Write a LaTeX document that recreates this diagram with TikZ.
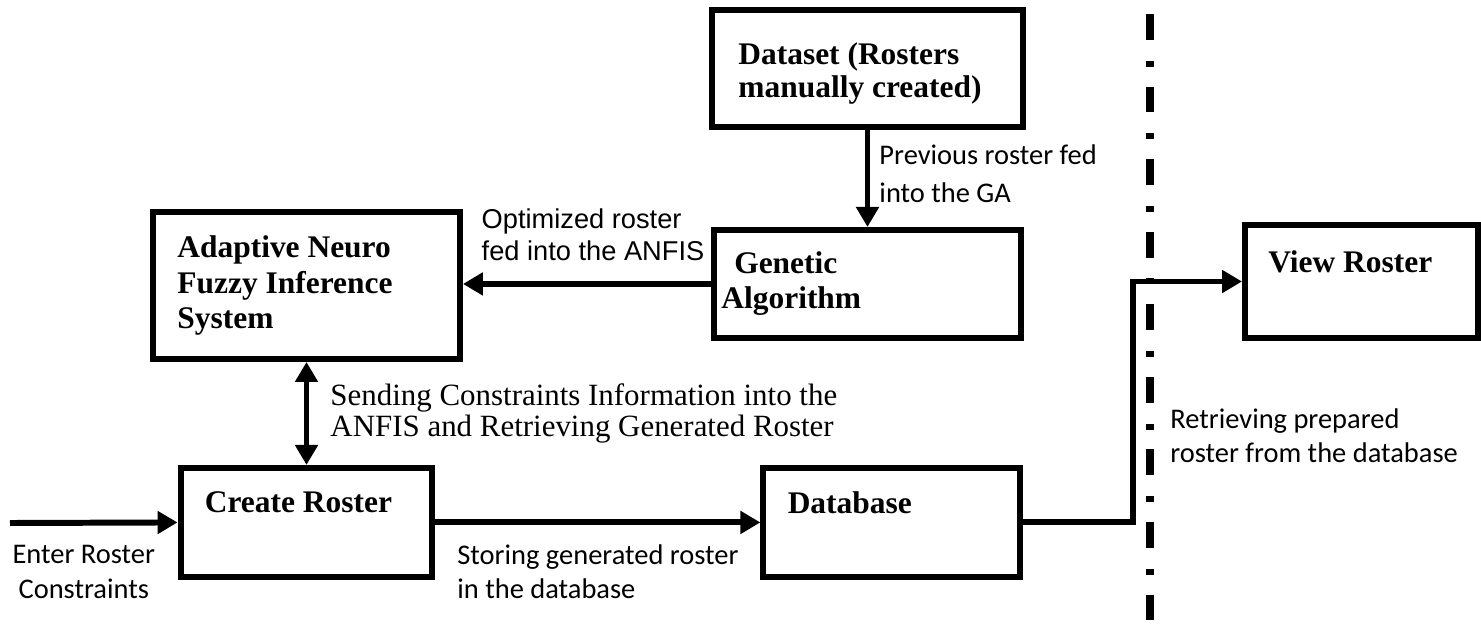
\documentclass[tikz,border=0pt]{standalone}
\usepackage{fontspec}
\setmainfont{Liberation Serif}
\newfontfamily\calibri{Carlito}
\newfontfamily\arial{Liberation Sans}
\usetikzlibrary{arrows.meta, positioning}

\begin{document}
\begin{tikzpicture}[
        x=0.02cm, y=-0.02cm,
        box/.style={draw, rectangle, line width=3.4pt},
        boxlabel/.style={anchor=north west, inner sep=0pt, align=left, xshift=0.54cm, yshift=-0.52cm,
            font=\bfseries\fontsize{17.9}{20.4}\selectfont},
        >={Triangle[length=0.4cm, width=0.44cm]},
        flow/.style={->, line width=3.4pt},
        note/.style={inner sep=0pt, align=left, font=\calibri\fontsize{16.2}{19.8}\selectfont},
        sepline/.style={line width=4pt, dash pattern=on 14.7pt off 11.9pt on 3.4pt off 11.3pt}
    ]
    \useasboundingbox (0,0) rectangle (1481,623);

    % boxes
    \node[box, minimum width=6.22cm, minimum height=2.34cm,
        label={[boxlabel, xshift=0.04cm, yshift=-0.18cm, font=\bfseries\fontsize{17.9}{18.9}\selectfont]north west:{Dataset (Rosters\\manually created)}}] (ds) at (867.5,68.5) {};
    \node[box, minimum width=6.14cm, minimum height=2.16cm, below=1.94cm of ds,
        label={[boxlabel, xshift=-0.34cm, yshift=0.04cm]north west:{\hspace*{0.41em}Genetic\\Algorithm}}] (ga) {};
    \node[box, minimum width=6.14cm, minimum height=2.94cm,
        label={[boxlabel]north west:{Adaptive Neuro\\Fuzzy Inference\\System}}] (anfis) at (306.5,285.5) {};
    \node[box, minimum width=5.04cm, minimum height=2.18cm, below=2.06cm of anfis,
        label={[boxlabel]north west:{Create Roster}}] (create) {};
    \node[box, minimum width=5.14cm, minimum height=2.18cm, right=6.5cm of create,
        label={[boxlabel]north west:{Database}}] (db) {};
    \node[box, minimum width=4.66cm, minimum height=2.26cm,
        label={[boxlabel, xshift=-0.02cm, yshift=-0.04cm]north west:{View Roster}}] (view) at (1361.5,281.5) {};

    \coordinate (start) at (10,523);
    \coordinate (turn) at (1133,400);
    \coordinate (septop) at (1150,14);
    \coordinate (sepbot) at (1150,623);

    % connectors
    \draw[flow] (ds.south) -- node[note, midway, right=0.18cm, yshift=0.1cm, font=\calibri\fontsize{16.2}{21.5}\selectfont] (lprev) {Previous roster fed\\into the GA} (ga.north);
    \draw[flow] (ga.west) -- node[note, midway, above=0.4cm, xshift=0.12cm, font=\arial\fontsize{15.5}{18.5}\selectfont] (lopt) {Optimized roster\\fed into the ANFIS} (ga.west -| anfis.east);
    \draw[<->, line width=3.4pt] (create.north |- anfis.south) -- node[note, midway, right=0.42cm, font=\fontsize{17.6}{18.1}\selectfont] (lsend) {Sending Constraints Information into the\\ANFIS and Retrieving Generated Roster} (create.north);
    \draw[flow] (start) -- node[note, midway, below=0.4cm, xshift=-0.2cm, align=center] (lenter) {Enter Roster\\Constraints} (create.west);
    \draw[flow] (create.east) -- node[note, midway, below=0.38cm] (lstore) {Storing generated roster\\in the database} (db.west);
    \draw[flow] (db.east) -| (turn) |- (view.west);
    \node[note, anchor=north west] (lretr) at (1170,408) {Retrieving prepared\\roster from the database};

    % separator
    \draw[sepline] (septop) -- (sepbot);
\end{tikzpicture}
\end{document}
